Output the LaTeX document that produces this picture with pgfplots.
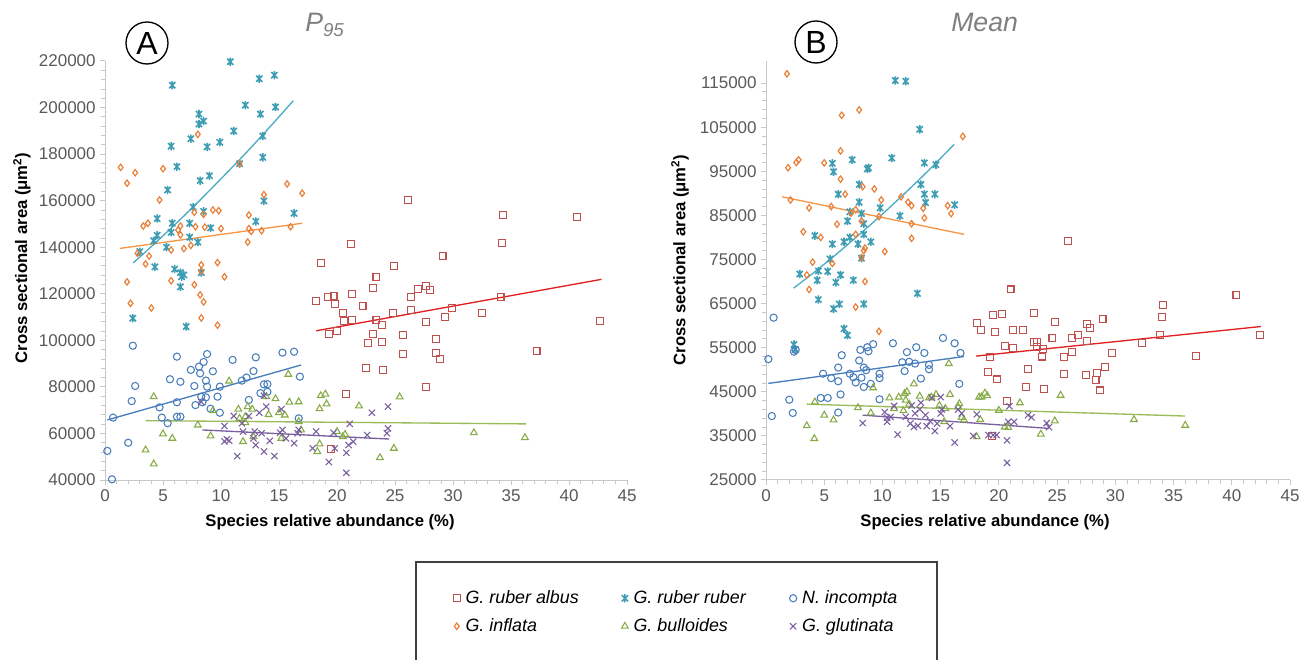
\documentclass[border=0pt]{standalone}
\usepackage{fontspec}
\setmainfont{Liberation Sans}
\usepackage{pgfplots}
\pgfplotsset{compat=1.18}

\definecolor{albus}{HTML}{C0504D}
\definecolor{albusT}{HTML}{E02020}
\definecolor{ruber}{HTML}{3E9DB3}
\definecolor{ruberT}{HTML}{4BACC6}
\definecolor{incompta}{HTML}{4A7EBB}
\definecolor{inflata}{HTML}{E8803A}
\definecolor{inflataT}{HTML}{F79646}
\definecolor{bull}{HTML}{86AA44}
\definecolor{bullT}{HTML}{9BBB59}
\definecolor{glut}{HTML}{7A5FA0}
\definecolor{tickgray}{HTML}{595959}
\definecolor{axgray}{HTML}{C8C8C8}
\definecolor{titlegray}{HTML}{7F7F7F}

% x with a vertical bar, like the spreadsheet "*" marker
\pgfdeclareplotmark{xast}{%
  \pgfpathmoveto{\pgfqpoint{-.75\pgfplotmarksize}{-.75\pgfplotmarksize}}%
  \pgfpathlineto{\pgfqpoint{.75\pgfplotmarksize}{.75\pgfplotmarksize}}%
  \pgfpathmoveto{\pgfqpoint{-.75\pgfplotmarksize}{.75\pgfplotmarksize}}%
  \pgfpathlineto{\pgfqpoint{.75\pgfplotmarksize}{-.75\pgfplotmarksize}}%
  \pgfpathmoveto{\pgfqpoint{0pt}{-\pgfplotmarksize}}%
  \pgfpathlineto{\pgfqpoint{0pt}{\pgfplotmarksize}}%
  \pgfusepathqstroke}

\pgfplotsset{
  panel/.style={
    scale only axis, height=314.25pt,
    axis lines*=left,
    axis line style={draw=axgray, line width=0.75pt},
    every tick/.append style={draw=axgray, line width=0.75pt},
    every minor tick/.append style={draw=axgray, line width=0.6pt},
    tick align=outside, major tick length=3.5pt, minor tick length=3pt,
    xmin=0, xmax=45, xtick distance=5, minor x tick num=4,
    minor y tick num=4,
    scaled y ticks=false,
    tick label style={font=\fontsize{12.75}{15}\selectfont, text=tickgray},
    /pgf/number format/assume math mode=true,
    yticklabel style={/pgf/number format/fixed, /pgf/number format/1000 sep={}},
    clip=false,
  },
  sqm/.style={only marks, mark=square, mark size=2.6pt, color=albus, mark options={line width=0.8pt}},
  astm/.style={only marks, mark=xast, mark size=3.1pt, color=ruber, mark options={line width=1.2pt}},
  cirm/.style={only marks, mark=o, mark size=2.7pt, color=incompta, mark options={line width=0.8pt}},
  diam/.style={only marks, mark=diamond, mark size=2.4pt, color=inflata, mark options={line width=0.9pt}},
  trim/.style={only marks, mark=triangle, mark size=2.9pt, color=bull, mark options={line width=0.8pt}},
  xm/.style={only marks, mark=x, mark size=3.3pt, color=glut, mark options={line width=0.8pt}},
  trend/.style={no markers, line width=1pt, forget plot},
}

\begin{document}
\begin{tikzpicture}
\path (0pt,0pt) rectangle (984.75pt,495pt);

% ---------------- panel A : P95 ----------------
\begin{axis}[panel, at={(78.75pt,135pt)}, anchor=south west, width=391.5pt,
  ymin=40000, ymax=220000, ytick distance=20000,
  legend columns=3,
  legend image code/.code={\draw[#1] plot coordinates {(0pt,0pt)};},
  legend style={at={(axis description cs:0.6667,-0.2482)}, anchor=north west,
    draw=none, fill=none, inner sep=0pt, column sep=0pt, row sep=0pt,
    font=\fontsize{13.4}{15}\selectfont,
    nodes={inner xsep=4pt, inner ysep=0pt, minimum height=21pt, anchor=west}},
  legend cell align=left]
\addplot[sqm] coordinates {(26.1,160200) (34.3,153800) (40.7,153000) (21.2,141300) (34.2,141800) (29.1,136200) (18.6,133100) (24.9,131900) (23.4,127300) (23.1,122600) (18.2,117000) (19.2,118500) (19.7,119200) (19.8,115500) (21.3,119900) (22.2,114800) (20.5,111600) (20.6,108200) (21.3,108600) (19.3,102700) (20.0,104000) (23.4,108700) (23.9,106600) (23.1,102700) (22.7,98700) (23.9,99200) (24.8,111900) (26.4,118600) (26.4,113000) (27.0,122200) (27.7,123300) (28.0,121600) (27.7,108000) (29.3,110200) (29.9,114000) (25.7,102200) (25.7,94100) (28.5,100600) (28.5,94400) (28.9,92100) (34.1,118500) (32.5,111900) (42.7,108300) (37.2,95400) (22.5,88200) (24.0,87100) (27.7,80000) (20.8,76800) (19.5,53300)};
\addlegendentry{\makebox[113pt][l]{\textit{G. ruber albus}}}
\addplot[astm] coordinates {(10.8,219700) (14.6,213900) (13.3,212400) (5.8,209600) (12.1,201000) (14.7,200200) (8.1,197200) (13.4,197200) (8.5,194200) (8.1,192900) (11.1,189900) (13.6,187800) (9.9,185100) (7.4,186600) (8.8,183100) (5.7,183400) (13.6,178600) (11.6,175900) (6.2,174600) (9.0,170700) (8.2,168600) (5.4,164600) (13.7,159900) (7.6,157200) (8.5,155400) (16.3,154600) (4.5,152300) (7.3,150300) (5.8,150300) (13.0,151100) (9.1,148300) (4.5,145100) (5.7,146400) (7.3,144300) (4.2,142800) (8.0,142200) (5.3,140000) (3.0,138100) (4.3,131600) (6.0,130600) (6.5,129100) (6.8,128100) (6.6,127300) (8.3,129100) (6.5,123000) (2.4,109500) (7.0,105900)};
\addlegendentry{\makebox[113pt][l]{\textit{G. ruber ruber}}}
\addplot[cirm] coordinates {(0.2,52500) (0.6,40300) (0.7,66800) (2.0,56000) (2.3,73900) (2.6,80400) (2.4,97700) (4.7,71200) (4.9,66800) (5.4,64400) (5.6,83300) (6.2,93000) (6.2,73400) (6.5,82200) (6.2,67200) (6.5,67200) (7.4,87300) (7.7,80400) (7.8,72200) (8.1,88700) (8.2,85800) (8.5,90700) (8.8,94100) (8.7,82700) (8.8,80100) (8.3,75800) (8.7,75500) (8.4,73400) (9.3,86700) (9.1,70600) (9.7,75800) (9.9,68900) (9.9,80100) (11.0,91600) (11.8,82700) (12.2,84000) (12.4,74400) (12.8,86800) (13.0,92700) (13.4,77300) (13.7,81100) (14.0,81200) (14.0,77900) (15.3,94700) (16.3,95100) (16.8,84400) (16.7,66500)};
\addlegendentry{\makebox[113pt][l]{\textit{N. incompta}}}
\addplot[diam] coordinates {(1.35,174300) (1.9,167500) (2.6,172000) (5.0,173700) (8.0,188500) (4.7,160300) (11.6,175900) (13.7,162600) (15.7,167200) (17.0,163200) (8.5,154100) (9.3,156000) (9.8,155700) (12.4,153800) (3.3,149100) (3.7,150300) (6.5,149100) (6.3,147400) (7.8,148800) (8.6,148600) (10.0,148000) (12.4,148000) (12.6,146800) (13.5,147100) (16.0,148800) (6.5,145300) (5.7,138800) (6.8,139400) (7.4,140800) (12.3,142200) (2.8,137400) (3.8,136200) (3.5,132800) (8.3,132400) (9.7,133400) (8.3,129700) (1.9,125100) (5.7,125600) (10.3,127300) (7.7,123900) (2.2,115900) (4.0,113900) (8.2,119500) (8.5,116500) (8.3,109600) (9.7,106500) (7.7,155000)};
\addlegendentry{\makebox[113pt][l]{\textit{G. inflata}}}
\addplot[trim] coordinates {(3.5,52900) (4.2,46900) (4.2,75800) (5.0,59800) (5.8,57900) (8.0,63600) (9.1,58900) (9.3,69800) (10.7,82500) (11.5,70400) (11.9,56500) (12.1,67200) (12.3,71500) (12.7,70400) (12.1,64600) (12.8,58600) (13.9,75800) (14.1,68100) (14.7,74900) (15.0,68900) (15.5,67900) (15.2,57900) (15.8,85400) (15.9,73400) (16.7,73600) (16.7,65100) (16.9,61500) (11.6,66500) (18.6,76200) (19.0,76900) (19.1,72700) (18.5,70600) (21.9,71800) (25.4,75700) (20.0,60800) (20.7,59600) (20.5,58600) (18.5,55500) (18.3,52200) (23.7,49600) (24.9,53600) (31.8,60300) (36.2,58200)};
\addlegendentry{\makebox[113pt][l]{\textit{G. bulloides}}}
\addplot[xm] coordinates {(8.3,73600) (10.5,57500) (10.7,56900) (10.3,56600) (10.3,63200) (11.1,67500) (11.4,50300) (11.8,64400) (12.4,67500) (12.9,60800) (12.8,57900) (13.0,55000) (13.3,68900) (13.7,76200) (13.9,71500) (13.7,52200) (14.2,56800) (14.6,50300) (15.1,60300) (15.3,61500) (15.2,70400) (15.6,57900) (16.3,55800) (16.7,61500) (16.6,60100) (11.9,60800) (13.5,60100) (18.2,60800) (17.9,53600) (19.3,47700) (19.7,60300) (19.8,53600) (20.8,51700) (20.8,43100) (21.1,64100) (21.0,55000) (21.4,56500) (22.6,59300) (23.0,68900) (24.4,71500) (24.4,62200) (24.3,60100)};
\addlegendentry{\makebox[113pt][l]{\textit{G. glutinata}}}
% trend lines
\addplot[trend, albusT] coordinates {(18.2,104100) (42.8,126200)};
\addplot[trend, ruberT, smooth] coordinates {(2.44,133300) (4,140300) (6,149600) (8,159300) (10,169400) (12,179700) (14,190500) (16.23,202900)};
\addplot[trend, incompta] coordinates {(0.2,65800) (16.9,89400)};
\addplot[trend, inflataT] coordinates {(1.3,139500) (17.0,150300)};
\addplot[trend, bullT] coordinates {(3.5,65500) (36.3,64100)};
\addplot[trend, glut] coordinates {(8.4,61500) (24.5,57600)};
\end{axis}

% ---------------- panel B : Mean ----------------
\begin{axis}[panel, at={(574.5pt,135pt)}, anchor=south west, width=393pt,
  ymin=25000, ymax=120000, ytick={25000,35000,...,115000}]
\addplot[sqm] coordinates {(25.9,79100) (21.0,68200) (40.4,67000) (34.1,64700) (34.0,61900) (19.5,62400) (20.3,62700) (23.0,62800) (18.1,60600) (18.5,59100) (19.7,58500) (21.2,59000) (22.1,59000) (24.8,60800) (27.6,60400) (27.8,59500) (28.9,61500) (26.8,57900) (24.6,57200) (26.3,57100) (27.6,56500) (23.0,56200) (23.3,56200) (20.5,55400) (21.2,55000) (23.3,55100) (23.8,54800) (26.3,54100) (32.3,56000) (33.8,57800) (42.4,57800) (29.7,53800) (19.2,52900) (23.7,53000) (25.6,52900) (36.9,53200) (22.5,50100) (19.1,49400) (19.8,47800) (25.6,49000) (27.5,48900) (28.4,49200) (29.1,50600) (28.3,47600) (22.3,46100) (23.9,45600) (28.7,45300) (20.7,43000) (19.4,35000)};
\addplot[astm] coordinates {(11.1,115600) (12.0,115400) (13.2,104500) (10.8,98000) (7.4,97600) (5.7,96800) (5.8,94900) (8.8,95800) (8.7,95500) (13.6,96900) (14.6,96500) (13.3,92000) (8.0,92000) (6.2,89800) (13.6,89800) (14.5,89800) (13.7,87900) (16.2,87400) (8.0,88000) (9.8,86700) (7.2,85800) (8.2,85400) (11.5,84900) (7.0,83700) (8.4,83100) (8.4,80700) (7.2,80000) (6.7,79000) (7.9,78500) (9.0,79000) (4.2,80400) (5.7,78500) (5.5,75100) (8.2,75300) (2.9,71700) (4.5,72400) (5.3,72300) (6.4,71500) (4.4,70300) (6.0,69800) (7.5,70300) (4.5,65900) (5.8,63800) (6.3,64900) (8.4,64900) (13.0,67300) (6.7,59300) (7.0,57800) (2.4,55700) (2.5,54600)};
\addplot[cirm] coordinates {(0.2,52400) (0.65,61800) (0.5,39500) (2.0,43200) (2.3,40200) (2.4,54100) (2.55,54500) (4.9,49100) (4.7,43600) (5.3,43600) (5.6,48100) (6.5,53300) (6.2,50500) (6.2,47400) (6.4,44400) (6.2,40300) (7.2,49100) (7.5,48300) (7.7,47100) (8.0,52100) (8.1,54500) (8.2,48200) (8.4,50500) (8.4,46100) (8.6,49900) (8.7,55100) (8.8,54200) (9.2,55800) (9.0,46800) (9.75,49100) (9.75,48100) (9.75,43300) (10.9,56000) (11.7,51700) (11.9,49700) (12.1,54000) (12.3,51800) (12.8,51400) (12.9,55100) (13.3,48000) (13.6,53800) (14.0,51100) (14.0,50100) (15.2,57200) (16.2,56000) (16.7,53800) (16.6,46800)};
\addplot[diam] coordinates {(1.8,117100) (8.0,108900) (6.5,107700) (16.9,102900) (6.4,99600) (1.9,95800) (2.6,97000) (2.8,97600) (5.0,96900) (6.4,93200) (6.8,89800) (8.3,91500) (9.3,91000) (11.6,89200) (9.9,88500) (12.2,88000) (12.5,87200) (13.5,86600) (15.6,87200) (15.9,85400) (13.6,84400) (2.1,88500) (3.7,86700) (5.6,87000) (7.3,85500) (7.7,86300) (8.2,83700) (9.7,84700) (6.1,83000) (3.2,81300) (4.7,80000) (7.7,80700) (12.5,83100) (12.5,79800) (8.5,77600) (8.4,77000) (10.2,76800) (8.2,75400) (4.0,74400) (5.7,74100) (3.5,71500) (3.7,68200) (8.5,70000) (7.7,64200) (9.7,58700)};
\addplot[trim] coordinates {(3.5,37300) (4.15,34400) (4.2,42700) (5.0,39700) (5.8,38600) (7.9,41400) (9.0,40200) (9.2,45900) (10.6,43600) (11.0,41200) (11.4,43800) (11.8,40700) (11.9,44600) (12.1,45000) (12.0,43100) (12.3,42200) (12.7,46800) (13.2,44000) (14.0,43600) (14.2,43800) (14.6,44400) (14.9,41900) (15.3,38200) (15.4,41200) (15.7,51400) (15.8,44400) (16.6,42300) (16.8,39200) (17.0,38600) (18.3,43800) (18.1,34800) (18.5,43800) (18.8,44700) (19.0,44100) (18.4,38700) (20.0,40800) (20.5,37000) (20.8,36900) (21.8,42500) (23.6,35400) (24.8,38400) (25.3,44200) (31.6,38700) (36.0,37400) (16.5,41600)};
\addplot[xm] coordinates {(8.3,37900) (10.2,40400) (10.4,39100) (10.4,38200) (10.7,39300) (11.0,41800) (11.3,35300) (12.0,39300) (12.4,37800) (12.5,41900) (12.7,37000) (12.8,40100) (13.05,37300) (13.2,41000) (13.3,42500) (13.7,39700) (13.8,37200) (14.1,38300) (14.25,43600) (14.5,36100) (14.7,37800) (15.0,40100) (15.0,43800) (15.1,41000) (15.8,37200) (16.2,33500) (16.5,41000) (16.8,40100) (17.8,35000) (18.1,39900) (19.1,35200) (19.5,35200) (19.8,35200) (20.7,34000) (20.7,28900) (20.9,41700) (20.8,38200) (21.3,38200) (22.5,39700) (22.8,39200) (24.1,37900) (24.3,37000)};
\addplot[trend, albusT] coordinates {(18.05,53100) (42.5,59800)};
\addplot[trend, ruberT, smooth] coordinates {(2.37,68500) (4,71800) (6,76100) (8.38,81500) (10,85300) (12,90200) (14,95300) (16.16,101100)};
\addplot[trend, incompta] coordinates {(0.2,46900) (17.0,53000)};
\addplot[trend, inflataT] coordinates {(1.4,89200) (17.0,80700)};
\addplot[trend, bullT] coordinates {(3.5,42200) (36.0,39500)};
\addplot[trend, glut] coordinates {(8.3,39700) (24.3,36700)};
\end{axis}

% ---------------- labels, titles, legend frame ----------------
\begin{scope}[x=0.75pt, y=0.75pt]
\node[rotate=90, font=\bfseries\fontsize{12.5}{15}\selectfont] at (22,402) {Cross sectional area (μm\textsuperscript{2})};
\node[rotate=90, font=\bfseries\fontsize{12.5}{15}\selectfont] at (680,400) {Cross sectional area (μm\textsuperscript{2})};
\node[font=\bfseries\fontsize{12.5}{15}\selectfont] at (330,138) {Species relative abundance (\%)};
\node[font=\bfseries\fontsize{12.5}{15}\selectfont] at (985,138) {Species relative abundance (\%)};
\node[anchor=base west, inner sep=0pt, text=titlegray, font=\itshape\fontsize{20}{24}\selectfont] at (305,628) {P\textsubscript{95}};
\node[anchor=base west, inner sep=0pt, text=titlegray, font=\itshape\fontsize{20}{24}\selectfont] at (951,628) {Mean};
\draw[line width=1pt] (147,617) circle (21);
\node[font=\fontsize{24}{28}\selectfont] at (147,617) {A};
\draw[line width=1pt] (816,618) circle (21);
\node[font=\fontsize{24}{28}\selectfont] at (816,618) {B};
\draw[black!75, line width=0.8pt] (416,0) -- (416,98) -- (937,98) -- (937,0);
\end{scope}
\end{tikzpicture}
\end{document}
